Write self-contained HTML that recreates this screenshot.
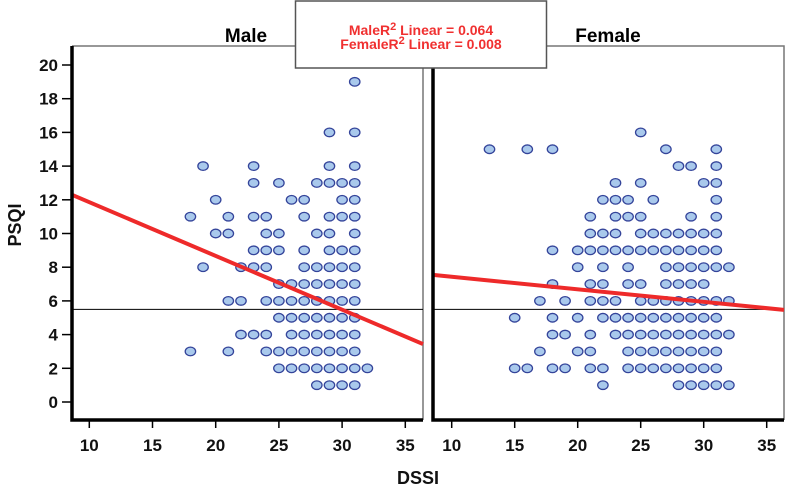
<!DOCTYPE html>
<html><head><meta charset="utf-8"><style>
html,body{margin:0;padding:0;background:#fff;}
svg{display:block;font-family:"Liberation Sans",Arial,sans-serif;}
</style></head><body>
<svg id="chart" width="786" height="488" xmlns="http://www.w3.org/2000/svg">
<g id="root"></g>
</svg>
<script>
const xTicks=[10,15,20,25,30,35];
const yTicks=[0,2,4,6,8,10,12,14,16,18,20];
const refLine=5.5;
// rows: [psqi, [dssi values...]]
const maleRows=[[19,[31]],[16,[29,31]],[14,[19,23,29,31]],[13,[23,25,28,29,30,31]],[12,[20,26,27,30,31]],
[11,[18,21,23,24,27,29,30,31]],[10,[20,21,24,25,28,29,31]],[9,[23,24,25,27,29,30,31]],[8,[19,22,23,24,27,28,29,30,31]],
[7,[25,26,27,28,29,30,31]],[6,[21,22,24,25,26,27,28,29,30,31]],[5,[25,26,27,28,29,30,31]],[4,[22,23,24,26,27,28,29,30,31]],
[3,[18,21,24,25,26,27,28,29,30,31]],[2,[25,26,27,28,29,30,31,32]],[1,[28,29,30,31]]];
const femaleRows=[[16,[25]],[15,[13,16,18,27,31]],[14,[28,29,31]],[13,[23,25,30,31]],[12,[22,23,24,26,31]],
[11,[21,23,24,25,29,31]],[10,[21,22,23,25,26,27,28,29,30,31]],[9,[18,20,21,22,23,24,25,26,27,28,29,30,31]],
[8,[20,22,24,27,28,29,30,31,32]],[7,[18,21,22,24,25,27,28,29,30]],[6,[17,19,21,22,23,25,26,27,28,29,30,31,32]],
[5,[15,18,20,22,23,24,25,26,27,28,29,30,31]],[4,[18,19,21,23,24,25,26,27,28,29,30,31,32]],[3,[17,20,21,24,25,26,27,28,29,30,31]],
[2,[15,16,18,19,21,22,24,25,26,27,28,29,30,31]],[1,[22,28,29,30,31,32]]];
const maleFit=[15.05,-0.319];
const femaleFit=[8.18,-0.0746];

const NS="http://www.w3.org/2000/svg";
const root=document.getElementById('root');
function mk(t,a,p){const e=document.createElementNS(NS,t);for(const k in a)e.setAttribute(k,a[k]);(p||root).appendChild(e);return e;}
const Y=v=>402-v*16.85;
const panels=[
 {name:'male',x0:72,x1:423,ox:89.3,s:12.64,rows:maleRows,fit:maleFit,title:'Male',tx:246},
 {name:'female',x0:433,x1:784,ox:451.7,s:12.6,rows:femaleRows,fit:femaleFit,title:'Female',tx:608}];
panels.forEach(p=>{
 const X=v=>p.ox+(v-10)*p.s;
 const g=mk('g',{});
 
 
 const fr=mk('polyline',{points:`${p.x0},46 ${p.x1},46 ${p.x1},420`,fill:'none',stroke:'#777','stroke-width':1.5},g);
 
 const t=mk('text',{x:p.tx,y:42,'font-size':19,'font-weight':'bold','text-anchor':'middle',fill:'#000'},g);t.textContent=p.title;
 
 const rl=mk('line',{x1:p.x0,x2:p.x1,y1:Y(refLine),y2:Y(refLine),stroke:'#000','stroke-width':1},g);
 
 p.rows.forEach(r=>r[1].forEach(xv=>{
  const c=mk('ellipse',{cx:X(xv),cy:Y(r[0]),rx:5.2,ry:4.3,fill:'#a9c9ec',stroke:'#34449a','stroke-width':1.3},g);
  
  
 }));
 const xa=10+(p.x0-p.ox)/p.s, xb=10+(p.x1-p.ox)/p.s;
 const fl=mk('line',{x1:p.x0,x2:p.x1,y1:Y(p.fit[0]+p.fit[1]*xa),y2:Y(p.fit[0]+p.fit[1]*xb),stroke:'#ee2a2a','stroke-width':4},g);
 
 const ax=mk('polyline',{points:`${p.x0},46 ${p.x0},420 ${p.x1},420`,fill:'none',stroke:'#000','stroke-width':3.5},g);
 
 xTicks.forEach(v=>{
  mk('line',{x1:X(v),x2:X(v),y1:420,y2:428,stroke:'#000','stroke-width':1.5},g);
  const l=mk('text',{x:X(v),y:451,'font-size':17,'font-weight':'bold','text-anchor':'middle',fill:'#111'},g);l.textContent=v;
  
 });
});
yTicks.forEach(v=>{
 mk('line',{x1:62,x2:72,y1:Y(v),y2:Y(v),stroke:'#000','stroke-width':1.5});
 const l=mk('text',{x:58,y:Y(v)+6,'font-size':17,'font-weight':'bold','text-anchor':'end',fill:'#111'});l.textContent=v;
 
});
const yt=mk('text',{x:0,y:0,transform:'translate(21,225) rotate(-90)','font-size':18,'font-weight':'bold','text-anchor':'middle',fill:'#111'});yt.textContent='PSQI';

const xt=mk('text',{x:418,y:484,'font-size':18,'font-weight':'bold','text-anchor':'middle',fill:'#111'});xt.textContent='DSSI';

const lg=mk('g',{});

mk('rect',{x:295.5,y:1,width:251,height:67,fill:'#fff',stroke:'#555','stroke-width':1.5},lg);
const l1=mk('text',{x:421,y:35,'font-size':14,'font-weight':'bold','text-anchor':'middle',fill:'#f03030'},lg);
l1.innerHTML='MaleR<tspan dy="-5" font-size="11">2</tspan><tspan dy="5"> Linear =  0.064</tspan>';
const l2=mk('text',{x:421,y:49,'font-size':14,'font-weight':'bold','text-anchor':'middle',fill:'#f03030'},lg);
l2.innerHTML='FemaleR<tspan dy="-5" font-size="11">2</tspan><tspan dy="5"> Linear =  0.008</tspan>';
</script>
</body></html>
